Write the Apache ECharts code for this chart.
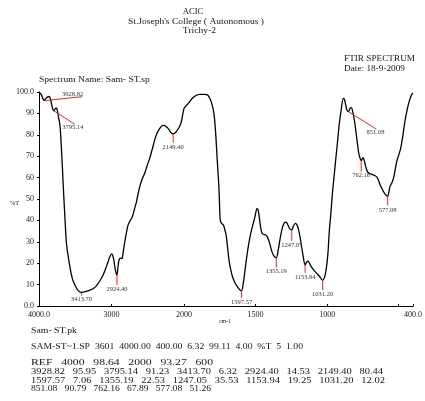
<!DOCTYPE html>
<html>
<head>
<meta charset="utf-8">
<script src="https://cdn.jsdelivr.net/npm/echarts@6/dist/echarts.min.js"></script>
<style>
  html, body { margin: 0; padding: 0; background: #fff; }
  #main { width: 425px; height: 401px; }
</style>
</head>
<body>
<div id="main"></div>
<script>
// 谱线数据 (cm-1, %T)，4000-2000 一段，2000-400 一段（横轴比例不同）
var waveHigh = [4000, 3970, 3945, 3928.82, 3910, 3885, 3860, 3840, 3815, 3795.14, 3775, 3760, 3745, 3730, 3711,
  3688, 3666, 3642, 3619, 3574, 3540, 3505, 3460, 3413.70, 3350, 3299, 3250, 3206, 3160, 3116, 3080, 3047, 3020,
  3000, 2985, 2968, 2945, 2924.40, 2910, 2895, 2876, 2855, 2840, 2817, 2790, 2771, 2740, 2711, 2685, 2656, 2611,
  2575, 2542, 2505, 2473, 2440, 2404, 2375, 2345, 2315, 2290, 2265, 2243, 2220, 2198, 2175, 2149.40, 2120, 2100,
  2083, 2060, 2037, 2015, 2000];
var transHigh = [99.9, 98.9, 96.8, 95.95, 96.8, 97.6, 97.9, 96.5, 92.5, 91.23, 92.2, 92.6, 91.0, 88.0, 84.6,
  72, 56.5, 41, 28.5, 18.4, 12.8, 9.8, 7.2, 6.32, 6.8, 7.4, 8.2, 9.5, 11.8, 14.5, 17.5, 20.7, 23.2,
  24.4, 23.8, 21.5, 16.5, 14.53, 18.5, 21.6, 22.4, 22.2, 25, 30, 35, 37.9, 40, 41.8, 45, 48.7, 55.8,
  59.5, 62, 66, 69, 73, 77.6, 80.5, 82.4, 83.8, 84.4, 84.3, 83.8, 83, 82, 80.8, 80.44, 81, 81.8,
  82.6, 84, 86.1, 90, 92.4];

var waveLow = [2000, 1970, 1940, 1913, 1890, 1860, 1833, 1810, 1795, 1787, 1778, 1771, 1764, 1757, 1752, 1748,
  1742, 1734, 1725, 1718, 1706, 1695, 1684, 1672, 1661, 1645, 1627, 1610, 1597.57, 1585, 1569, 1555, 1541, 1530,
  1519, 1505, 1489, 1481, 1473, 1465, 1455, 1443, 1431, 1420, 1409, 1396, 1386, 1370, 1355.19, 1342, 1328, 1313,
  1298, 1285, 1275, 1262, 1247.05, 1235, 1221, 1210, 1202, 1190, 1180, 1168, 1153.94, 1143, 1133, 1122, 1111,
  1093, 1076, 1053, 1031.20, 1018, 1008, 995, 985, 973, 962, 950, 939, 927, 916, 902, 887, 879, 871, 862,
  851.08, 840, 831, 820, 808, 798, 790, 778, 767, 762.16, 755, 748, 740, 733, 724, 716, 700, 686, 668, 652,
  640, 629, 618, 606, 590, 577.08, 568, 560, 548, 537, 525, 514, 500, 486, 470, 457, 440, 427, 411, 400];
var transLow = [92.4, 94.7, 97.2, 98.5, 98.9, 98.9, 98.5, 95.5, 91.5, 87.7, 80, 72, 64, 56.5, 48, 41,
  39, 38.4, 37.9, 36.5, 33.2, 27, 20.7, 16.5, 13.7, 11.0, 9, 7.6, 7.06, 11, 19.2, 26, 31.6, 35,
  37.9, 41.5, 45.6, 44.5, 41, 37, 34, 33.4, 33.3, 32.5, 30.8, 28, 25.4, 23.2, 22.53, 26, 31.6, 36.5,
  39, 39.2, 38, 36.2, 35.53, 37.5, 38.6, 37.8, 36.3, 32.5, 28.5, 23.5, 19.25, 20.5, 21, 19.8, 18.4,
  16.8, 15.5, 13.8, 12.02, 13.5, 16.5, 24, 34.7, 44, 53.4, 61.5, 69, 77, 84.6, 91.5, 97, 96.5, 94.2, 91.6,
  90.79, 92.3, 92.7, 90.5, 86.1, 81, 76.8, 71, 68.5, 67.89, 68.8, 69.3, 67.8, 65.9, 63.8, 62.5, 61.8, 61.5, 61, 60.2,
  58.5, 56.5, 55, 53.4, 51.8, 51.26, 53.5, 56, 57.5, 59.5, 63.5, 67.4, 70.5, 73.7, 80, 86.1, 92, 95.5, 98.6, 99.5];

// 峰值表
var peakWave = [3928.82, 3795.14, 3413.70, 2924.40, 2149.40, 1597.57, 1355.19, 1247.05, 1153.94, 1031.20, 851.08, 762.16, 577.08];
var peakTrans = [95.95, 91.23, 6.32, 14.53, 80.44, 7.06, 22.53, 35.53, 19.25, 12.02, 90.79, 67.89, 51.26];

var xLabelsLow = [1500, 1000, 400];
var xTicksLow = [1500, 1000, 500, 400];

// 峰标注的偏移 [dx, dy, 文字dx, 文字dy, 对齐]
var peakLayout = [
  [38, -4, 1, -2.5, 'right'],
  [21, 13.5, -2, 3.5, 'center'],
  [0, 3, 0, 3.5, 'center'],
  [0, 10, 0, 4, 'center'],
  [0, 9, 0, 4, 'center'],
  [0, 7, 0, 4, 'center'],
  [0, 10, 0, 4, 'center'],
  [0, 11, 0, 4, 'center'],
  [0, 8, 0, 4, 'center'],
  [0, 10, 0, 4, 'center'],
  [28, 17.5, -1, 3, 'center'],
  [0, 11, 0, 3.5, 'center'],
  [0, 9, 0, 4.5, 'center']
];

var serif = '"Liberation Serif", "DejaVu Serif", serif';

function pairs(ws, ts) {
  var out = [];
  ws.forEach(function (w, i) { out.push([w, ts[i]]); });
  return out;
}

var peaksHigh = [], peaksLow = [];
peakWave.forEach(function (w, i) {
  if (w > 2000) peaksHigh.push([w, peakTrans[i], i]);
  else peaksLow.push([w, peakTrans[i], i]);
});

function renderPeak(params, api) {
  var w = api.value(0), t = api.value(1);
  var p = api.coord([w, t]);
  var lay = peakLayout[api.value(2)];
  var ex = p[0] + lay[0], ey = p[1] + lay[1];
  return {
    type: 'group',
    children: [
      { type: 'line', shape: { x1: p[0], y1: p[1], x2: ex, y2: ey }, style: { stroke: '#ff1f1f', lineWidth: 1 } },
      { type: 'text', x: ex + lay[2], y: ey + lay[3],
        style: { text: w.toFixed(2), font: '6.5px ' + serif, fill: '#333', align: lay[4], verticalAlign: 'middle' } }
    ]
  };
}

// 底部峰值文字行
function peakLine(from, to) {
  var parts = [];
  for (var i = from; i < to && i < peakWave.length; i++) {
    parts.push(peakWave[i].toFixed(2) + '   ' + peakTrans[i].toFixed(2));
  }
  return parts.join('   ');
}

// 文字按原图宽度拉伸
var measureCtx = document.createElement('canvas').getContext('2d');
function textEl(str, x, y, align, width, size) {
  var font = size + 'px ' + serif;
  measureCtx.font = font;
  var s = width / measureCtx.measureText(str).width;
  return { type: 'text', x: x, y: y, scaleX: s,
    style: { text: str, font: font, fill: '#151515', align: align, verticalAlign: 'middle' } };
}

var texts = [
  textEl('ACIC', 193, 12, 'center', 20.6, 8),
  textEl("St.Joseph's College ( Autonomous )", 196, 22, 'center', 136, 8),
  textEl('Trichy-2', 199.5, 31, 'center', 33.3, 8),
  textEl('FTIR SPECTRUM', 344, 59, 'left', 71, 8),
  textEl('Date: 18-9-2009', 344, 69, 'left', 61, 8),
  textEl('Spectrum Name: Sam- ST.sp', 39, 80, 'left', 110.7, 8),
  textEl('%T', 10, 203, 'left', 9, 7),
  textEl('cm-1', 219, 321, 'left', 12, 7),
  textEl('Sam- ST.pk', 31, 331, 'left', 46, 8.5),
  textEl('SAM-ST~1.SP  3601  4000.00  400.00  6.32  99.11  4.00  %T  5  1.00', 31, 347, 'left', 272, 8.5),
  textEl('REF   4000   98.64   2000   93.27   600', 31, 363, 'left', 182, 8),
  textEl(peakLine(0, 5), 31, 372, 'left', 352, 8),
  textEl(peakLine(5, 10), 31, 380.5, 'left', 354, 8),
  textEl(peakLine(10, 15), 31, 389, 'left', 180, 8)
];

var axisLabelStyle = { fontFamily: serif, fontSize: 8, color: '#222' };

var myChart = echarts.init(document.getElementById('main'), null, { renderer: 'canvas' });
myChart.setOption({
  backgroundColor: '#fff',
  animation: false,
  textStyle: { fontFamily: serif },
  grid: [
    { left: 39, top: 92, width: 145, height: 214 },
    { left: 184, top: 92, width: 233, height: 214 }
  ],
  xAxis: [
    {
      gridIndex: 0, type: 'value', min: 2000, max: 4000, interval: 1000, inverse: true,
      axisLine: { lineStyle: { color: '#000', width: 1 } },
      axisTick: { inside: true, length: 2, lineStyle: { color: '#000' } },
      splitLine: { show: false },
      axisLabel: Object.assign({ margin: 5, formatter: function (v) { return v === 4000 ? '4000.0' : String(v); } }, axisLabelStyle)
    },
    {
      gridIndex: 1, type: 'value', min: 400, max: 2000, inverse: true,
      axisLine: { lineStyle: { color: '#000', width: 1 } },
      axisTick: { inside: true, length: 2, customValues: xTicksLow, lineStyle: { color: '#000' } },
      splitLine: { show: false },
      axisLabel: Object.assign({ margin: 5, customValues: xLabelsLow,
        formatter: function (v) { return v === 400 ? '400.0' : String(v); } }, axisLabelStyle)
    }
  ],
  yAxis: [
    {
      gridIndex: 0, type: 'value', min: 0, max: 100, interval: 10,
      axisLine: { show: true, lineStyle: { color: '#000', width: 1 } },
      axisTick: { show: true, length: 2, lineStyle: { color: '#000' } },
      splitLine: { show: false },
      axisLabel: Object.assign({ margin: 5, formatter: function (v) {
        return v === 100 ? '100.0' : (v === 0 ? '0.0' : String(v)); } }, axisLabelStyle)
    },
    { gridIndex: 1, type: 'value', min: 0, max: 100, show: false, splitLine: { show: false } }
  ],
  series: [
    { type: 'line', xAxisIndex: 0, yAxisIndex: 0, data: pairs(waveHigh, transHigh), smooth: 0.3,
      symbol: 'none', lineStyle: { color: '#000', width: 1.3 }, clip: false, z: 3 },
    { type: 'line', xAxisIndex: 1, yAxisIndex: 1, data: pairs(waveLow, transLow), smooth: 0.3,
      symbol: 'none', lineStyle: { color: '#000', width: 1.3 }, clip: false, z: 3 },
    { type: 'custom', xAxisIndex: 0, yAxisIndex: 0, data: peaksHigh, renderItem: renderPeak, clip: false, z: 4 },
    { type: 'custom', xAxisIndex: 1, yAxisIndex: 1, data: peaksLow, renderItem: renderPeak, clip: false, z: 4 }
  ],
  graphic: texts
});
</script>
</body>
</html>
